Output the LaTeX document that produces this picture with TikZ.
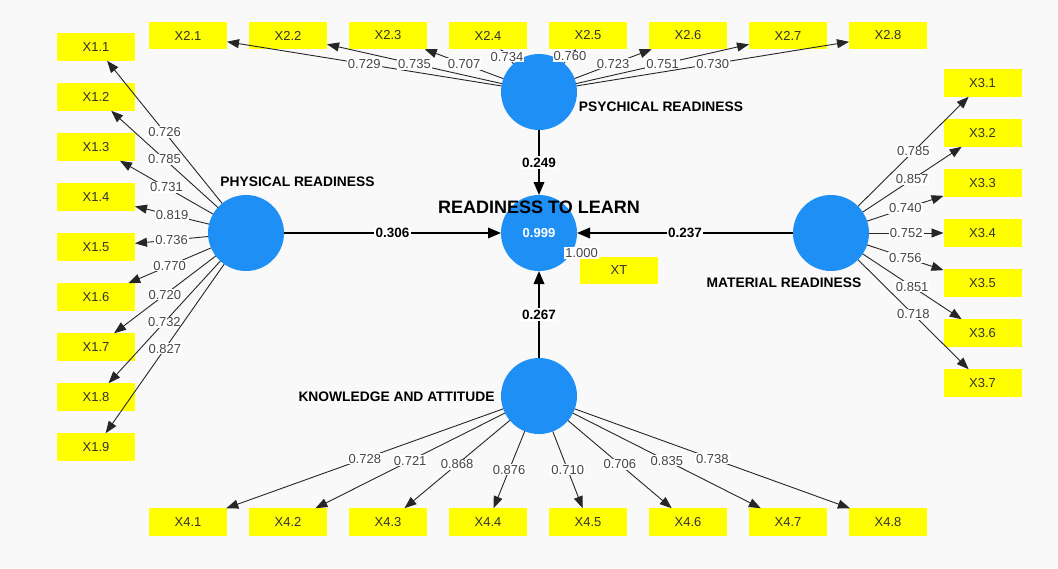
\documentclass[tikz,border=0pt]{standalone}
\usepackage{fontspec}
\setmainfont{Liberation Sans}
\usetikzlibrary{arrows.meta}
\definecolor{bg}{RGB}{249,249,249}
\definecolor{cblue}{RGB}{30,144,245}
\definecolor{ybox}{RGB}{255,255,0}
\definecolor{lblgray}{RGB}{70,70,70}
\begin{document}
\begin{tikzpicture}[x=1pt,y=-1pt,
 ind/.style={fill=ybox, minimum width=78pt, minimum height=27.5pt, inner sep=0pt, outer sep=0pt, font=\fontsize{13}{15}\selectfont, text=black!80},
 lv/.style={circle, fill=cblue, minimum size=76pt, inner sep=0pt, outer sep=0pt},
 load/.style={draw=black!85, line width=0.9pt, -{Triangle[length=12pt,width=9pt]}},
 lbl/.style={fill=white, inner sep=1pt, text=lblgray, font=\fontsize{13}{15}\selectfont},
 struct/.style={draw=black, line width=1.8pt, -{Triangle[length=13pt,width=10.5pt]}},
 slbl/.style={fill=white, inner sep=1.5pt, font=\bfseries\fontsize{13.5}{15}\selectfont},
 cname/.style={font=\bfseries\fontsize{13.8}{16}\selectfont, inner sep=0pt}
]
\fill[bg] (0,0) rectangle (1058,568);
\useasboundingbox (0,0) rectangle (1058,568);

% latent variables
\node[lv] (pr)  at (246,233) {};
\node[lv] (psr) at (539,92) {};
\node[lv] (rtl) at (539,233) {};
\node[lv] (mr)  at (831,233) {};
\node[lv] (ka)  at (539,396) {};

% construct names
\node[cname] (prl)  at (297.5,182) {PHYSICAL READINESS};
\node[cname] (psrl) at (661,107) {PSYCHICAL READINESS};
\node[cname] (mrl)  at (784,283) {MATERIAL READINESS};
\node[cname] (kal)  at (396.5,397) {KNOWLEDGE AND ATTITUDE};
\node[font=\bfseries\fontsize{18}{20}\selectfont, inner sep=0pt] (rtll) at (539,207) {READINESS TO LEARN};
\node[font=\bfseries\fontsize{13}{15}\selectfont, text=white, inner sep=0pt] (rtlv) at (539,233) {0.999};

% indicators
\foreach \i in {1,...,9} \node[ind] (x1\i) at (96,{47+50*(\i-1)}) {X1.\i};
\foreach \i in {1,...,8} \node[ind] (x2\i) at ({188+100*(\i-1)},35.5) {X2.\i};
\foreach \i in {1,...,7} \node[ind] (x3\i) at (982.5,{83+50*(\i-1)}) {X3.\i};
\foreach \i in {1,...,8} \node[ind] (x4\i) at ({188+100*(\i-1)},522) {X4.\i};
\node[ind] (xt) at (619,270.5) {XT};

% loadings: physical readiness
\draw[load] (pr) -- node[lbl]{0.726} (x11);
\draw[load] (pr) -- node[lbl]{0.785} (x12);
\draw[load] (pr) -- node[lbl]{0.731} (x13);
\draw[load] (pr) -- node[lbl]{0.819} (x14);
\draw[load] (pr) -- node[lbl]{0.736} (x15);
\draw[load] (pr) -- node[lbl]{0.770} (x16);
\draw[load] (pr) -- node[lbl]{0.720} (x17);
\draw[load] (pr) -- node[lbl]{0.732} (x18);
\draw[load] (pr) -- node[lbl]{0.827} (x19);

% loadings: psychical readiness
\draw[load] (psr) -- node[lbl]{0.729} (x21);
\draw[load] (psr) -- node[lbl]{0.735} (x22);
\draw[load] (psr) -- node[lbl]{0.707} (x23);
\draw[load] (psr) -- node[lbl]{0.734} (x24);
\draw[load] (psr) -- node[lbl]{0.760} (x25);
\draw[load] (psr) -- node[lbl]{0.723} (x26);
\draw[load] (psr) -- node[lbl]{0.751} (x27);
\draw[load] (psr) -- node[lbl]{0.730} (x28);

% loadings: material readiness
\draw[load] (mr) -- node[lbl]{0.785} (x31);
\draw[load] (mr) -- node[lbl]{0.857} (x32);
\draw[load] (mr) -- node[lbl]{0.740} (x33);
\draw[load] (mr) -- node[lbl]{0.752} (x34);
\draw[load] (mr) -- node[lbl]{0.756} (x35);
\draw[load] (mr) -- node[lbl]{0.851} (x36);
\draw[load] (mr) -- node[lbl]{0.718} (x37);

% loadings: knowledge and attitude
\draw[load] (ka) -- node[lbl]{0.728} (x41);
\draw[load] (ka) -- node[lbl]{0.721} (x42);
\draw[load] (ka) -- node[lbl]{0.868} (x43);
\draw[load] (ka) -- node[lbl]{0.876} (x44);
\draw[load] (ka) -- node[lbl]{0.710} (x45);
\draw[load] (ka) -- node[lbl]{0.706} (x46);
\draw[load] (ka) -- node[lbl]{0.835} (x47);
\draw[load] (ka) -- node[lbl]{0.738} (x48);

% readiness to learn indicator
\draw[load] (rtl) -- node[lbl]{1.000} (xt);

% structural paths
\draw[struct] (pr) -- node[slbl]{0.306} (rtl);
\draw[struct] (mr) -- node[slbl]{0.237} (rtl);
\draw[struct] (psr) -- node[slbl]{0.249} (rtl);
\draw[struct] (ka) -- node[slbl]{0.267} (rtl);
\end{tikzpicture}
\end{document}
